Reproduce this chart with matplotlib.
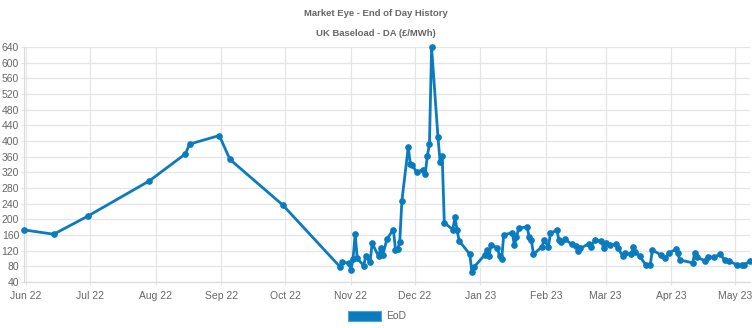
import matplotlib
matplotlib.use("Agg")
import matplotlib.pyplot as plt
import matplotlib.dates as mdates
import pandas as pd

# ---------------- data ----------------
dates = [
    "2022-05-31", "2022-06-14", "2022-06-30", "2022-07-29", "2022-08-15", "2022-08-17",
    "2022-08-31", "2022-09-05", "2022-09-30",
    "2022-10-27", "2022-10-28", "2022-10-31", "2022-11-01", "2022-11-02", "2022-11-03",
    "2022-11-04", "2022-11-07", "2022-11-08", "2022-11-10", "2022-11-11", "2022-11-14",
    "2022-11-15", "2022-11-16", "2022-11-18", "2022-11-21", "2022-11-22", "2022-11-23",
    "2022-11-24", "2022-11-25", "2022-11-28", "2022-11-29", "2022-11-30", "2022-12-02",
    "2022-12-05", "2022-12-06", "2022-12-07", "2022-12-08", "2022-12-09", "2022-12-12",
    "2022-12-13", "2022-12-14", "2022-12-15", "2022-12-19", "2022-12-20", "2022-12-21",
    "2022-12-22", "2022-12-27", "2022-12-28", "2022-12-29",
    "2023-01-03", "2023-01-04", "2023-01-05", "2023-01-06", "2023-01-09", "2023-01-10",
    "2023-01-11", "2023-01-12", "2023-01-16", "2023-01-17", "2023-01-18", "2023-01-19",
    "2023-01-23", "2023-01-24", "2023-01-25", "2023-01-26", "2023-01-30", "2023-01-31",
    "2023-02-02", "2023-02-03", "2023-02-06", "2023-02-07", "2023-02-08", "2023-02-10",
    "2023-02-13", "2023-02-15", "2023-02-16", "2023-02-17", "2023-02-21", "2023-02-22",
    "2023-02-24", "2023-02-27", "2023-02-28", "2023-03-01", "2023-03-03", "2023-03-06",
    "2023-03-07", "2023-03-09", "2023-03-10", "2023-03-13", "2023-03-14", "2023-03-15",
    "2023-03-17", "2023-03-20", "2023-03-22", "2023-03-23", "2023-03-27", "2023-03-29",
    "2023-03-31", "2023-04-03", "2023-04-04", "2023-04-05", "2023-04-11", "2023-04-12",
    "2023-04-13", "2023-04-17", "2023-04-18", "2023-04-21", "2023-04-24", "2023-04-26",
    "2023-04-28", "2023-05-02", "2023-05-04", "2023-05-05", "2023-05-08",
]
eod = [
    173, 162, 208, 298, 367, 392,
    414, 353, 236,
    78, 91, 88, 71, 98, 162,
    100, 82, 106, 90, 139, 106,
    126, 109, 150, 174, 122, 123,
    142, 247, 384, 341, 338, 320,
    327, 317, 361, 393, 639, 411,
    347, 362, 191, 174, 205, 173,
    145, 111, 65, 78,
    109, 122, 106, 134, 128, 106,
    99, 160, 166, 134, 154, 177,
    181, 154, 147, 111, 130, 147,
    130, 164, 173, 147, 143, 149,
    136, 132, 120, 126, 137, 130,
    147, 145, 128, 139, 134, 137,
    126, 106, 113, 111, 130, 117,
    106, 83, 83, 122, 109, 100,
    115, 123, 113, 96, 89, 115,
    103, 94, 105, 103, 111, 96,
    94, 83, 83, 83, 93,
]
y_ticks = list(range(40, 641, 40))
title = "Market Eye - End of Day History"
subtitle = "UK Baseload - DA (£/MWh)"
series_name = "EoD"

# ---------------- plot ----------------
plt.rcParams["font.family"] = ["Liberation Sans", "DejaVu Sans"]
blue = "#0b7bc0"
grid_c = "#e5e5e5"
text_c = "#666666"

x = pd.to_datetime(dates)

fig = plt.figure(figsize=(7.52, 3.28), dpi=100)
ax = fig.add_axes([24 / 752, 1 - 282 / 328, 726 / 752, 235 / 328])

ax.plot(x, eod, color=blue, lw=2.0, marker="o", ms=3.8, mec=blue, mfc=blue,
        clip_on=False, zorder=3)

ax.set_xlim(x.min(), x.max())
ax.set_ylim(40, 640)
ax.set_yticks(y_ticks)
ax.xaxis.set_major_locator(mdates.MonthLocator())
ax.xaxis.set_major_formatter(mdates.DateFormatter("%b %y"))

ax.grid(True, color=grid_c, lw=0.9)
ax.set_axisbelow(True)
for s in ["top", "right"]:
    ax.spines[s].set_visible(False)
for s in ["left", "bottom"]:
    ax.spines[s].set_color("#d9d9d9")
ax.tick_params(axis="both", colors=grid_c, labelcolor=text_c, labelsize=7.5,
               length=2.5, width=0.9)
ax.tick_params(axis="y", pad=1)
ax.tick_params(axis="x", pad=4)

fig.text(0.5, 1 - 13 / 328, title, ha="center", va="center", fontsize=6.8,
         fontweight="bold", color=text_c)
fig.text(0.5, 1 - 34 / 328, subtitle, ha="center", va="center", fontsize=6.8,
         fontweight="bold", color=text_c)

# legend box drawn like chart.js
fig.patches.append(plt.Rectangle((348 / 752, 1 - 321 / 328), 33 / 752, 10 / 328,
                                 transform=fig.transFigure, facecolor=blue,
                                 edgecolor="#4fa3d6", lw=0.8))
fig.text(386 / 752, 1 - 316 / 328, series_name, ha="left", va="center", fontsize=7.5,
         color=text_c)

fig.savefig("out.png", dpi=100)
